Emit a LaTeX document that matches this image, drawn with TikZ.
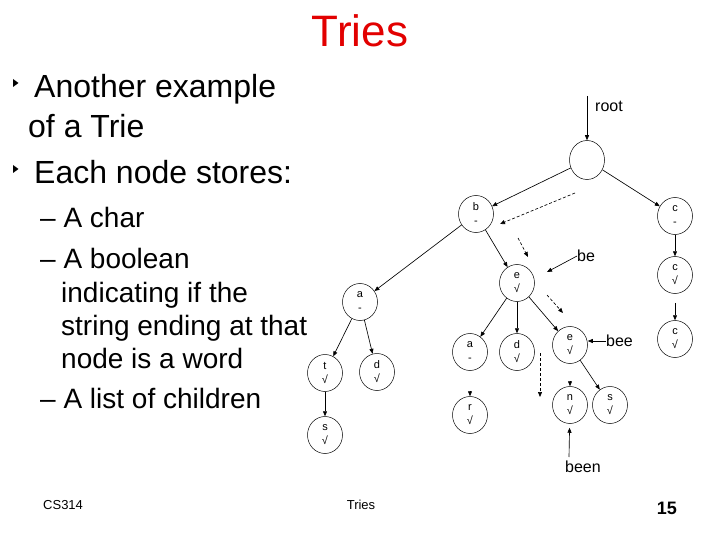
\documentclass[tikz,border=0pt]{standalone}
\usepackage{fontspec}
\setmainfont{Liberation Sans}
\usetikzlibrary{arrows.meta,shapes.geometric}
\definecolor{titlered}{RGB}{226,0,0}
\begin{document}
\begin{tikzpicture}[x=1pt,y=-1pt,
  tn/.style={ellipse,draw,line width=0.5pt,minimum width=35pt,minimum height=37pt,inner sep=0pt,align=center,font=\fontsize{11}{14}\selectfont},
  arr/.style={-{Triangle[length=5pt,width=4pt]},line width=0.65pt},
  darr/.style={arr,dash pattern=on 3pt off 2pt},
  lbl/.style={font=\fontsize{16}{16}\selectfont,inner sep=0pt},
  big/.style={anchor=base west,inner sep=0pt,font=\fontsize{32}{38}\selectfont},
  sub/.style={anchor=base west,inner sep=0pt,font=\fontsize{28}{33}\selectfont},
  foot/.style={anchor=base,inner sep=0pt,font=\fontsize{13}{15}\selectfont}]
\useasboundingbox (0,0) rectangle (720,540);

% title
\node[anchor=base,inner sep=0pt,text=titlered,font=\fontsize{44}{50}\selectfont] (title) at (360,47) {Tries};

% bullets
\fill (13,79) -- (18.5,83) -- (13,87) -- cycle;
\node[big] (t1) at (34,98) {Another example};
\node[big] (t2) at (28,138) {of a Trie};
\fill (13,165) -- (18.5,169) -- (13,173) -- cycle;
\node[big] (t3) at (34,184) {Each node stores:};
\node[sub] (t4) at (40,227) {– A char};
\node[sub] (t5) at (40,268) {– A boolean};
\node[sub] (t6) at (61,302) {indicating if the};
\node[sub] (t7) at (61,335) {string ending at that};
\node[sub] (t8) at (61,368) {node is a word};
\node[sub] (t9) at (40,408) {– A list of children};

% footer
\node[foot,anchor=base west] (f1) at (43,509) {CS314};
\node[foot] (f2) at (361,509) {Tries};
\node[anchor=base east,inner sep=0pt,font=\fontsize{18}{20}\selectfont\bfseries] (f3) at (677,514) {15};

% trie nodes
\node[tn,minimum height=39pt] (root) at (587,160) {};
\node[tn] (b)  at (476,214) {b\\-};
\node[tn] (c1) at (675,216) {c\\-};
\node[tn] (c2) at (675,275) {c\\√};
\node[tn] (c3) at (675,339) {c\\√};
\node[tn] (e)  at (517,283) {e\\√};
\node[tn] (aL) at (360,302) {a\\-};
\node[tn] (tL) at (325,373) {t\\√};
\node[tn] (dL) at (377,372) {d\\√};
\node[tn] (sL) at (325,435) {s\\√};
\node[tn] (aR) at (470,352) {a\\-};
\node[tn] (dR) at (517,352) {d\\√};
\node[tn] (e3) at (570,345) {e\\√};
\node[tn] (r)  at (470,415) {r\\√};
\node[tn] (n)  at (570,405) {n\\√};
\node[tn] (sR) at (610,405) {s\\√};

% labels
\node[lbl,anchor=west] (rootL) at (595,106) {root};
\node[lbl,anchor=west] (beL) at (577,256) {be};
\node[lbl,anchor=west] (beeL) at (606,341) {bee};
\node[lbl,anchor=west] (beenL) at (565,467) {been};

% helper coordinates
\coordinate (rootT) at (587,96);
\coordinate (d1s) at (575,193);
\coordinate (d1e) at (500,224);
\coordinate (d2s) at (518,238);
\coordinate (d2e) at (528,257);
\coordinate (beH) at (547,272);
\coordinate (d3s) at (547,295);
\coordinate (d3e) at (563,313);
\coordinate (d4s) at (540,353);
\coordinate (d4e) at (540,397);
\coordinate (beenT) at (569,457);
\coordinate (rT) at (470,391);
\coordinate (nT) at (570,381);

% connectors
\draw[arr] (rootT) -- (root);
\draw[arr] (root) -- (b);
\draw[arr] (root) -- (c1);
\draw[darr] (d1s) -- (d1e);
\draw[arr] (b) -- (aL);
\draw[arr] (b) -- (e);
\draw[darr] (d2s) -- (d2e);
\draw[arr] (beL.west) -- (beH);
\draw[arr] (c1) -- (c2);
\draw[arr,shorten <=9pt] (c2) -- (c3);
\draw[arr] (e) -- (aR);
\draw[arr] (e) -- (dR);
\draw[arr] (e) -- (e3);
\draw[darr] (d3s) -- (d3e);
\draw[arr] (beeL.west) -- (e3.east |- beeL.west);
\draw[arr] (e3) -- (sR);
\draw[darr] (d4s) -- (d4e);
\draw[arr,shorten >=4pt] (beenT) -- (n);
\draw[arr] (rT) -- (r);
\draw[arr] (nT) -- (n);
\draw[arr] (aL) -- (tL);
\draw[arr] (aL) -- (dL);
\draw[arr] (tL) -- (sL);
\end{tikzpicture}
\end{document}
